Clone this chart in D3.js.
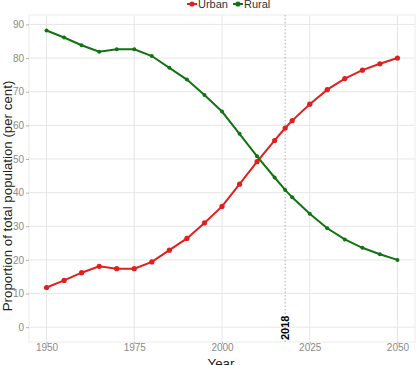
<!DOCTYPE html>
<html>
<head>
<meta charset="utf-8">
<script src="https://cdn.jsdelivr.net/npm/d3@7"></script>
<style>
  body { margin: 0; background: #fff; }
  svg { display: block; font-family: "Liberation Sans", Arial, sans-serif; }
</style>
</head>
<body>
<div id="chart"></div>
<script>
// data (China, share of population, per cent)
const years = [1950, 1955, 1960, 1965, 1970, 1975, 1980, 1985, 1990, 1995, 2000,
               2005, 2010, 2015, 2018, 2020, 2025, 2030, 2035, 2040, 2045, 2050];
const urban = [11.8, 13.9, 16.2, 18.1, 17.4, 17.4, 19.4, 22.9, 26.4, 31.0, 35.9,
               42.5, 49.2, 55.5, 59.2, 61.4, 66.3, 70.6, 73.9, 76.4, 78.3, 80.0];
const rural = [88.2, 86.1, 83.8, 81.9, 82.6, 82.6, 80.6, 77.1, 73.6, 69.0, 64.1,
               57.5, 50.8, 44.5, 40.8, 38.6, 33.7, 29.4, 26.1, 23.6, 21.7, 20.0];
const yTicks = [0, 10, 20, 30, 40, 50, 60, 70, 80, 90];
const xTicks = [1950, 1975, 2000, 2025, 2050];
const markYear = 2018;

const W = 416, H = 365;
const panel = {left: 29, right: 415, top: 15, bottom: 342};

const svg = d3.select("#chart").append("svg")
    .attr("width", W).attr("height", H);

const x = d3.scaleLinear().domain([1945, 2055]).range([panel.left, panel.right]);
const y = d3.scaleLinear().domain([-4.4, 92.8]).range([panel.bottom, panel.top]);

// gridlines
svg.append("g").selectAll("line").data(yTicks).join("line")
    .attr("x1", panel.left).attr("x2", panel.right)
    .attr("y1", d => y(d)).attr("y2", d => y(d))
    .attr("stroke", "#e6e6e6").attr("stroke-width", 1);
svg.append("g").selectAll("line").data(xTicks).join("line")
    .attr("y1", panel.top).attr("y2", panel.bottom)
    .attr("x1", d => x(d)).attr("x2", d => x(d))
    .attr("stroke", "#e6e6e6").attr("stroke-width", 1);

svg.append("rect")
    .attr("x", panel.left).attr("y", panel.top)
    .attr("width", panel.right - panel.left).attr("height", panel.bottom - panel.top)
    .attr("fill", "none").attr("stroke", "#ececec");

// axes
const yAxis = svg.append("g")
    .attr("transform", `translate(${panel.left},0)`)
    .call(d3.axisLeft(y).tickValues(yTicks).tickSize(3).tickPadding(2));
const xAxis = svg.append("g")
    .attr("transform", `translate(0,${panel.bottom})`)
    .call(d3.axisBottom(x).tickValues(xTicks).tickFormat(d3.format("d")).tickSize(2).tickPadding(0));
[yAxis, xAxis].forEach(a => {
    a.select(".domain").remove();
    a.selectAll(".tick line").attr("stroke", "#b3b3b3");
    a.selectAll("text").attr("fill", "#8a8a8a").style("font-size", "10px");
});

// 2018 marker
svg.append("line")
    .attr("x1", x(markYear)).attr("x2", x(markYear))
    .attr("y1", panel.top).attr("y2", panel.bottom)
    .attr("stroke", "#999").attr("stroke-width", 0.8)
    .attr("stroke-dasharray", "1.5,2");
svg.append("text")
    .attr("transform", `translate(${x(markYear) + 4},${panel.bottom - 2}) rotate(-90)`)
    .style("font-size", "11px").style("font-weight", "bold")
    .attr("fill", "#000")
    .text(markYear);

// series
const series = [
    {name: "Urban", values: urban, color: "#e01f1f"},
    {name: "Rural", values: rural, color: "#137313"}
];
const line = d3.line().x((d, i) => x(years[i])).y(d => y(d));

series.forEach(s => {
    svg.append("path")
        .datum(s.values)
        .attr("fill", "none")
        .attr("stroke", s.color)
        .attr("stroke-width", 2)
        .attr("d", line);
    svg.append("g").selectAll("circle").data(s.values).join("circle")
        .attr("cx", (d, i) => x(years[i]))
        .attr("cy", d => y(d))
        .attr("r", s.name === "Urban" ? 2.6 : 2)
        .attr("fill", s.color);
});

// axis titles
svg.append("text")
    .attr("transform", `translate(12,196) rotate(-90)`)
    .attr("text-anchor", "middle")
    .style("font-size", "13.3px").attr("fill", "#222")
    .text("Proportion of total population (per cent)");
svg.append("text")
    .attr("x", 221).attr("y", 368)
    .attr("text-anchor", "middle")
    .style("font-size", "13.3px").attr("fill", "#222")
    .text("Year");

// legend
const legend = svg.append("g").attr("transform", "translate(187,4)");
let lx = 0;
series.forEach(s => {
    const g = legend.append("g").attr("transform", `translate(${lx},0)`);
    g.append("line").attr("x1", 0).attr("x2", 10).attr("y1", 0).attr("y2", 0)
        .attr("stroke", s.color).attr("stroke-width", 2);
    g.append("circle").attr("cx", 5).attr("cy", 0).attr("r", 2.6).attr("fill", s.color);
    const t = g.append("text").attr("x", 11).attr("y", 4)
        .style("font-size", "11px").attr("fill", "#333").text(s.name);
    lx += 11 + t.node().getComputedTextLength() + 5;
});
</script>
</body>
</html>
